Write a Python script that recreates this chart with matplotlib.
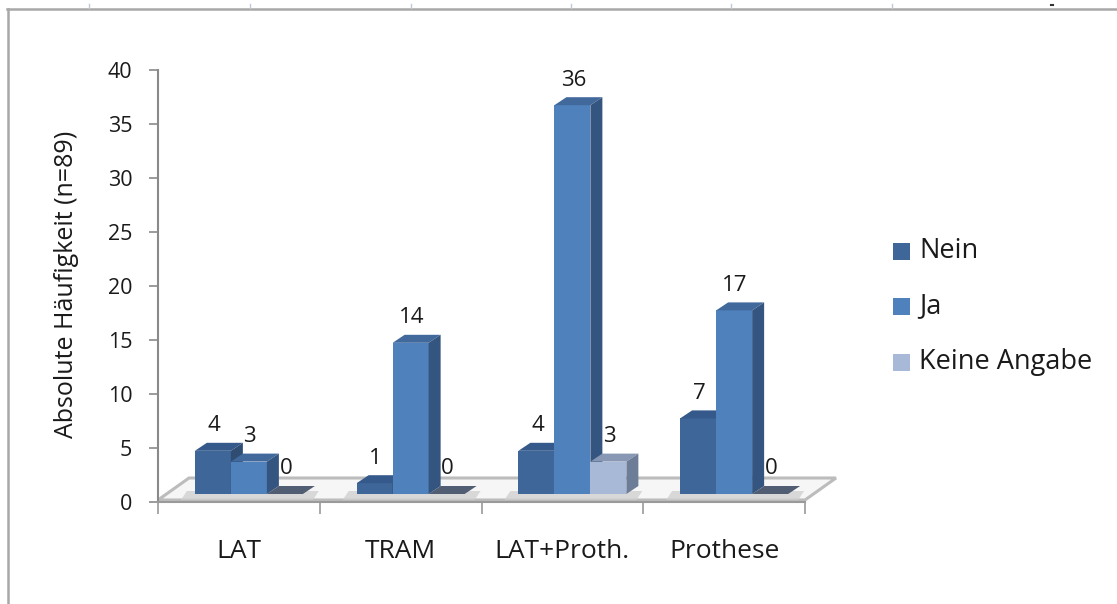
import matplotlib
matplotlib.use("Agg")
import matplotlib.pyplot as plt
from matplotlib.patches import Polygon, Rectangle
from matplotlib.lines import Line2D
from matplotlib.transforms import offset_copy
import numpy as np

categories = ["LAT", "TRAM", "LAT+Proth.", "Prothese"]
series_names = ["Nein", "Ja", "Keine Angabe"]
nein = [4, 1, 4, 7]
ja = [3, 14, 36, 17]
keine_angabe = [0, 0, 3, 0]
y_ticks = [0, 5, 10, 15, 20, 25, 30, 35, 40]
y_label = "Absolute Häufigkeit (n=89)"

plt.rcParams["font.family"] = ["Open Sans", "DejaVu Sans"]

W, H = 1117, 604
fig = plt.figure(figsize=(W / 100, H / 100), dpi=100)
ax_left, ax_bottom, ax_w, ax_h = 158, 102, 647, 432
ax = fig.add_axes([ax_left / W, ax_bottom / H, ax_w / W, ax_h / H])
ax.set_xlim(-0.5, 3.5)
ax.set_ylim(0, 40)
ax.patch.set_visible(False)

sx = ax_w / 4.0   # pixels per category
sy = ax_h / 40.0  # pixels per unit

# front, top, side shading of each series
faces = {
    "Nein": ("#3e6699", "#34598a", "#2f4c73"),
    "Ja": ("#4f81bd", "#41699c", "#34557f"),
    "Keine Angabe": ("#a8b8d7", "#8797b4", "#6e7d97"),
}
zero_color = "#515d73"

bar_w = 36 / sx
ddx, ddy = 12 / sx, 8 / sy          # bar depth
bar_tr = offset_copy(ax.transData, fig=fig, x=10, y=8, units="dots")
lbl_tr = offset_copy(ax.transData, fig=fig, x=11, y=33, units="dots")

# floor of the 3-D plot area
f0 = 2 / sy
fdx, fdy = 31 / sx, 22 / sy
floor = Polygon([(-0.5, f0), (3.5, f0), (3.5 + fdx, f0 + fdy), (-0.5 + fdx, f0 + fdy)],
                closed=True, fc="#f6f6f6", ec="#bcbcbc", lw=2.2, clip_on=False, zorder=1)
ax.add_patch(floor)

x = np.arange(len(categories))
series = [nein, ja, keine_angabe]
offsets = [-bar_w, 0.0, bar_w]

# soft shadows cast on the floor
for gi in range(len(categories)):
    gl = x[gi] - 1.5 * bar_w - 14 / sx
    gr = x[gi] + 1.5 * bar_w + 10 / sx
    b0, b1 = -6 / sy, 3 / sy
    ax.add_patch(Polygon([(gl, b0), (gr, b0), (gr + 6 / sx, b1), (gl + 6 / sx, b1)],
                         closed=True, fc="#cfcfcf", ec="none", alpha=0.75,
                         transform=bar_tr, clip_on=False, zorder=1.5))

for gi in range(len(categories)):
    for si, name in enumerate(series_names):
        v = series[si][gi]
        xc = x[gi] + offsets[si]
        x0, x1 = xc - bar_w / 2, xc + bar_w / 2
        front, top, side = faces[name]
        if v == 0:
            ax.add_patch(Polygon([(x0, 0), (x1, 0), (x1 + ddx, ddy), (x0 + ddx, ddy)],
                                 closed=True, fc=zero_color, ec="none",
                                 transform=bar_tr, clip_on=False, zorder=2))
        else:
            ax.bar(xc, v, width=bar_w, color=front, linewidth=0,
                   transform=bar_tr, clip_on=False, zorder=2)
            ax.add_patch(Polygon([(x0, v), (x1, v), (x1 + ddx, v + ddy), (x0 + ddx, v + ddy)],
                                 closed=True, fc=top, ec="none",
                                 transform=bar_tr, clip_on=False, zorder=2))
            ax.add_patch(Polygon([(x1, 0), (x1 + ddx, ddy), (x1 + ddx, v + ddy), (x1, v)],
                                 closed=True, fc=side, ec="none",
                                 transform=bar_tr, clip_on=False, zorder=2))
        ax.text(xc, v, str(v), transform=lbl_tr, ha="center", va="center",
                fontsize=16, color="#1a1a1a", zorder=3)

# axes styling
for s in ("top", "right"):
    ax.spines[s].set_visible(False)
ax.spines["left"].set_color("#8a8a8a")
ax.spines["left"].set_linewidth(1.5)
ax.spines["bottom"].set_color("#9a9a9a")
ax.spines["bottom"].set_linewidth(1.5)

ax.set_yticks(y_ticks)
ax.tick_params(axis="y", length=6.5, width=1.2, color="#8a8a8a", pad=12,
               labelsize=15.5, labelcolor="#1a1a1a")
ax.set_xticks(np.arange(-0.5, 4.0, 1.0))
ax.set_xticklabels([])
ax.set_xticks(x, minor=True)
ax.set_xticklabels(categories, minor=True)
ax.tick_params(axis="x", which="major", length=8.6, width=1.2, color="#9a9a9a")
ax.tick_params(axis="x", which="minor", length=0, pad=27, labelsize=19,
               labelcolor="#1a1a1a")

fig.text(67 / W, 1 - 284 / H, y_label, rotation=90, ha="center", va="center",
         fontsize=18, color="#1a1a1a")

# legend
for i, name in enumerate(series_names):
    yc = 251 + 55.5 * i
    fig.add_artist(Rectangle((893 / W, (H - yc - 8.5) / H), 17 / W, 17 / H,
                             transform=fig.transFigure, fc=faces[name][0], ec="none"))
    fig.text(919 / W, 1 - yc / H, name, ha="left", va="center", fontsize=19.5,
             color="#1a1a1a")

# outer frame of the chart area
frame_c = "#a8a8a8"
fig.add_artist(Line2D([7 / W, 1.0], [1 - 9 / H, 1 - 9 / H], transform=fig.transFigure,
                      color=frame_c, lw=1.8))
fig.add_artist(Line2D([8 / W, 8 / W], [0.0, 1 - 9 / H], transform=fig.transFigure,
                      color=frame_c, lw=1.8))
for rx in (89, 250, 411, 571, 731, 892):
    fig.add_artist(Line2D([rx / W, rx / W], [1 - 4 / H, 1 - 8 / H],
                          transform=fig.transFigure, color="#c0c8d8", lw=1.0))
fig.add_artist(Line2D([1051 / W, 1053 / W], [1 - 5 / H, 1 - 5 / H],
                      transform=fig.transFigure, color="#333333", lw=1.5))

fig.savefig("out.png", dpi=100)
